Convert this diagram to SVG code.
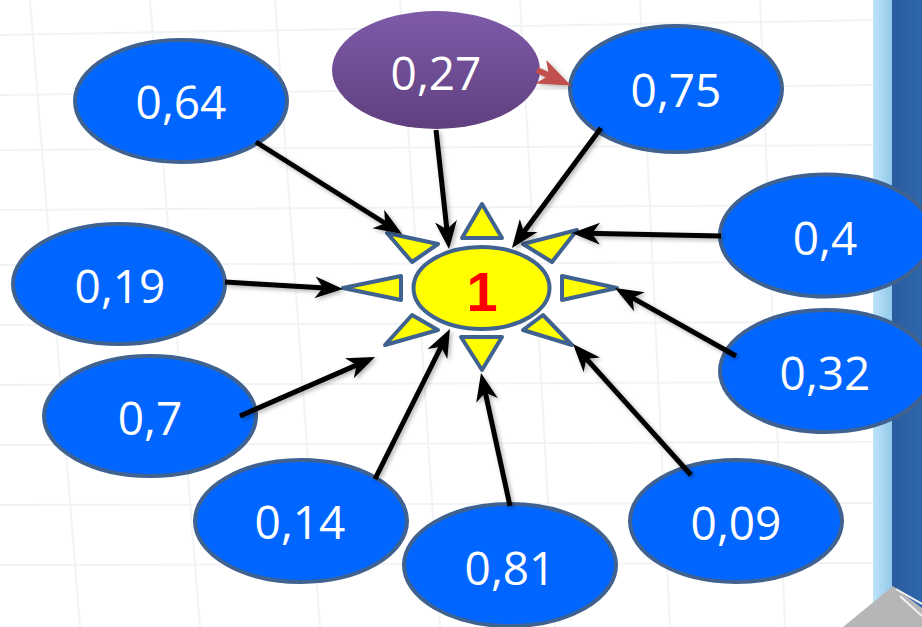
<svg xmlns="http://www.w3.org/2000/svg" width="922" height="627" viewBox="0 0 922 627">
  <defs>
    <style>
      .node ellipse.b { fill: #0066FF; stroke: #3F6290; stroke-width: 4; }
      .lbl { font-family: "Open Sans", "Liberation Sans", sans-serif; font-size: 46px; fill: #FFFFFF; text-anchor: middle; }
      .ray { fill: #FFFF00; stroke: #3F6290; stroke-width: 4; stroke-linejoin: round; }
      .conn { stroke: #000000; stroke-width: 5; fill: none; marker-end: url(#ah); }
      .grid { stroke: #F2F3F5; stroke-width: 2; fill: none; }
    </style>
    <linearGradient id="purp" x1="0" y1="0" x2="0" y2="1">
      <stop offset="0" stop-color="#7E5AA8"/>
      <stop offset="1" stop-color="#60407F"/>
    </linearGradient>
    <linearGradient id="lightStrip" x1="0" y1="0" x2="1" y2="0">
      <stop offset="0" stop-color="#BDE4F8"/>
      <stop offset="1" stop-color="#92C9EA"/>
    </linearGradient>
    <linearGradient id="darkStrip" x1="0" y1="0" x2="1" y2="0">
      <stop offset="0" stop-color="#2A5C9E"/>
      <stop offset="1" stop-color="#2E67AC"/>
    </linearGradient>
    <marker id="ah" markerUnits="userSpaceOnUse" markerWidth="32" markerHeight="26" viewBox="0 -13 32 26" refX="14" refY="0" orient="auto">
      <path d="M0,-11 L28,0 L0,11 L8,0 Z" fill="#000000"/>
    </marker>
    <marker id="ahRed" markerUnits="userSpaceOnUse" markerWidth="40" markerHeight="30" viewBox="0 -15 40 30" refX="9" refY="0" orient="auto">
      <path d="M0,-13 L33,0 L0,13 L9,0 Z" fill="#C0504D"/>
    </marker>
    <filter id="shadow" x="-20%" y="-20%" width="140%" height="140%">
      <feDropShadow dx="2" dy="2" stdDeviation="2" flood-color="#000000" flood-opacity="0.3"/>
    </filter>
  </defs>

  <rect x="0" y="0" width="922" height="627" fill="#FFFFFF"/>
  <g id="background">
    <path class="grid" d="M0,35 L873,20 M0,95 L873,85 M0,150 L873,145 M0,210 L873,205 M0,265 L873,262 M0,325 L873,322 M0,385 L873,382 M0,445 L873,442 M0,505 L873,503 M0,565 L873,563"/>
    <path class="grid" d="M30,0 L80,627 M150,0 L200,627 M275,0 L320,627 M400,0 L440,627 M520,0 L555,627 M640,0 L670,627 M760,0 L785,627"/>
    <rect x="873" y="0" width="19" height="627" fill="url(#lightStrip)"/>
    <rect x="892" y="0" width="30" height="627" fill="url(#darkStrip)"/>
    <polygon points="843,627 893,586 922,608 922,627" fill="#B6B6B8"/>
    <path d="M896,589 L922,604 M900,596 L922,616" stroke="#F2F2F2" stroke-width="2" fill="none"/>
  </g>

  <g id="sun">
    <polygon class="ray" points="482,204 462,238 502,238"/>
    <polygon class="ray" points="461,337 502,337 482,370"/>
    <polygon class="ray" points="343,288 401,276 401,300"/>
    <polygon class="ray" points="617,288 562,276 562,300"/>
    <polygon class="ray" points="387,233 438,244 412,262"/>
    <polygon class="ray" points="577,230 523,244 552,262"/>
    <polygon class="ray" points="385,345 412,315 438,330"/>
    <polygon class="ray" points="572,345 543,315 523,330"/>
    <ellipse cx="481.5" cy="288" rx="68" ry="41" fill="#FFFF00" stroke="#3F6290" stroke-width="4"/>
    <text x="482" y="311" font-family="'Liberation Sans', Arial, sans-serif" font-weight="bold" font-size="56" fill="#FF0000" text-anchor="middle">1</text>
  </g>

  <g id="n027" class="node">
    <ellipse cx="436" cy="70" rx="104" ry="59" fill="url(#purp)"/>
    <text class="lbl" x="436" y="90">0,27</text>
  </g>
  <g id="n064" class="node">
    <ellipse class="b" cx="181" cy="101" rx="106" ry="61"/>
    <text class="lbl" x="181" y="119">0,64</text>
  </g>
  <g id="n075" class="node">
    <ellipse class="b" cx="676" cy="89" rx="106" ry="63"/>
    <text class="lbl" x="676" y="107">0,75</text>
  </g>
  <g id="n04" class="node">
    <ellipse class="b" cx="826" cy="235.5" rx="106" ry="61"/>
    <text class="lbl" x="825" y="255">0,4</text>
  </g>
  <g id="n019" class="node">
    <ellipse class="b" cx="119" cy="284" rx="106" ry="60"/>
    <text class="lbl" x="120" y="303">0,19</text>
  </g>
  <g id="n032" class="node">
    <ellipse class="b" cx="826" cy="371" rx="106" ry="61"/>
    <text class="lbl" x="825" y="390">0,32</text>
  </g>
  <g id="n07" class="node">
    <ellipse class="b" cx="150" cy="416" rx="106" ry="60"/>
    <text class="lbl" x="150" y="435">0,7</text>
  </g>
  <g id="n014" class="node">
    <ellipse class="b" cx="301" cy="521" rx="106" ry="61"/>
    <text class="lbl" x="300" y="539">0,14</text>
  </g>
  <g id="n081" class="node">
    <ellipse class="b" cx="510" cy="565" rx="106" ry="61"/>
    <text class="lbl" x="510" y="585">0,81</text>
  </g>
  <g id="n009" class="node">
    <ellipse class="b" cx="736" cy="521" rx="106" ry="61"/>
    <text class="lbl" x="736" y="540">0,09</text>
  </g>

  <g id="connectors" filter="url(#shadow)">
    <line class="conn" x1="256" y1="142" x2="390.2" y2="226.5"/>
    <line class="conn" x1="436" y1="130" x2="447.5" y2="235.1"/>
    <line class="conn" x1="601" y1="128" x2="520.3" y2="236.8"/>
    <line class="conn" x1="721" y1="236" x2="586" y2="233.3"/>
    <line class="conn" x1="736" y1="356" x2="627.2" y2="294.9"/>
    <line class="conn" x1="691" y1="475" x2="582.4" y2="354.4"/>
    <line class="conn" x1="510" y1="506" x2="484" y2="386.7"/>
    <line class="conn" x1="375" y1="479" x2="443.7" y2="341.5"/>
    <line class="conn" x1="240" y1="416" x2="362.2" y2="362.6"/>
    <line class="conn" x1="225" y1="282" x2="329" y2="288.2"/>
    <line x1="537" y1="70" x2="549" y2="75.5" stroke="#C0504D" stroke-width="6" marker-end="url(#ahRed)"/>
  </g>
</svg>
